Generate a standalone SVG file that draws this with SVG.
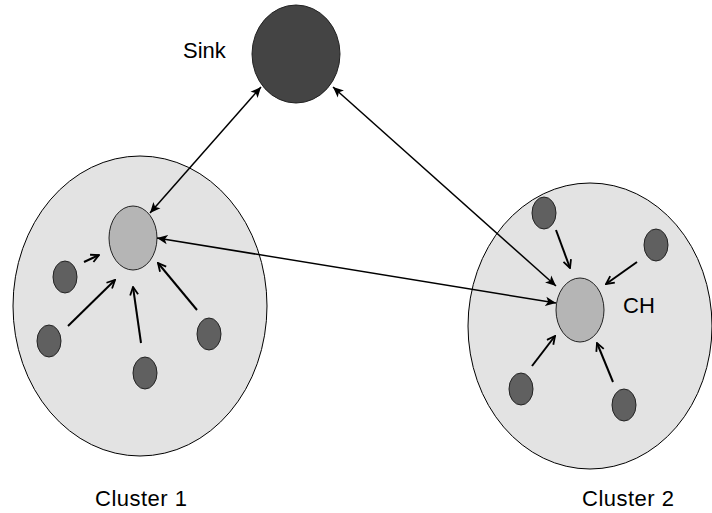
<svg xmlns="http://www.w3.org/2000/svg" width="712" height="513" viewBox="0 0 712 513">
<style>
.cluster{fill:#e3e3e3;stroke:#000;stroke-width:1}
.ch{fill:#b5b5b5;stroke:#222;stroke-width:1}
.node{fill:#606060;stroke:#222;stroke-width:1}
.sink{fill:#444;stroke:#222;stroke-width:1}
.lbl{font-family:"Liberation Sans",Arial,sans-serif;font-size:22px;fill:#000}
.a{stroke:#000;stroke-width:2;fill:none;marker-end:url(#open)}
.l{stroke:#000;stroke-width:1.5;fill:none;marker-start:url(#solidS);marker-end:url(#solid)}
</style>
<defs>
<marker id="open" viewBox="0 0 10 10" refX="9" refY="5" markerWidth="5" markerHeight="5" orient="auto" markerUnits="strokeWidth">
<path d="M1,1 L9,5 L1,9" fill="none" stroke="#000" stroke-width="1.8"/>
</marker>
<marker id="solid" viewBox="0 0 10 10" refX="10" refY="5" markerWidth="7" markerHeight="7" orient="auto" markerUnits="strokeWidth">
<path d="M0,0.5 L10,5 L0,9.5 L2.5,5 Z" fill="#000"/>
</marker>
<marker id="solidS" viewBox="0 0 10 10" refX="0" refY="5" markerWidth="7" markerHeight="7" orient="auto" markerUnits="strokeWidth">
<path d="M10,0.5 L0,5 L10,9.5 L7.5,5 Z" fill="#000"/>
</marker>
</defs>
<g id="cluster1">
<ellipse class="cluster" cx="140" cy="306" rx="127" ry="150"/>
<text class="lbl" x="95" y="506" textLength="92">Cluster 1</text>
</g>
<g id="cluster2">
<ellipse class="cluster" cx="590" cy="326" rx="122" ry="143"/>
<text class="lbl" x="582" y="506" textLength="92">Cluster 2</text>
</g>
<g id="sink">
<ellipse class="sink" cx="296" cy="54" rx="44" ry="49"/>
<text class="lbl" x="183" y="58">Sink</text>
</g>
<g id="ch1"><ellipse class="ch" cx="133" cy="238" rx="24" ry="32"/></g>
<g id="ch2">
<ellipse class="ch" cx="580" cy="310" rx="24" ry="32"/>
<text class="lbl" x="623" y="313">CH</text>
</g>
<g id="n1a"><ellipse class="node" cx="65" cy="277" rx="12" ry="16"/></g>
<g id="n1b"><ellipse class="node" cx="49" cy="341" rx="12" ry="16"/></g>
<g id="n1c"><ellipse class="node" cx="145" cy="373" rx="12" ry="16"/></g>
<g id="n1d"><ellipse class="node" cx="209" cy="334" rx="12" ry="16"/></g>
<g id="n2a"><ellipse class="node" cx="544" cy="213" rx="12" ry="16"/></g>
<g id="n2b"><ellipse class="node" cx="656" cy="245" rx="12" ry="16"/></g>
<g id="n2c"><ellipse class="node" cx="521" cy="389" rx="12" ry="16"/></g>
<g id="n2d"><ellipse class="node" cx="624" cy="405" rx="12" ry="16"/></g>
<g id="connectors">
<line class="a" x1="84" y1="262" x2="99" y2="255"/>
<line class="a" x1="68" y1="326" x2="115" y2="280"/>
<line class="a" x1="141" y1="343" x2="133" y2="287"/>
<line class="a" x1="197" y1="310" x2="158" y2="263"/>
<line class="a" x1="556" y1="230" x2="570" y2="268"/>
<line class="a" x1="637" y1="262" x2="606" y2="284"/>
<line class="a" x1="532" y1="366" x2="555" y2="336"/>
<line class="a" x1="613" y1="382" x2="597" y2="343"/>
<line class="l" x1="261" y1="87" x2="150" y2="213"/>
<line class="l" x1="333" y1="87" x2="556" y2="286"/>
<line class="l" x1="157" y1="238" x2="556" y2="303"/>
</g>
</svg>
